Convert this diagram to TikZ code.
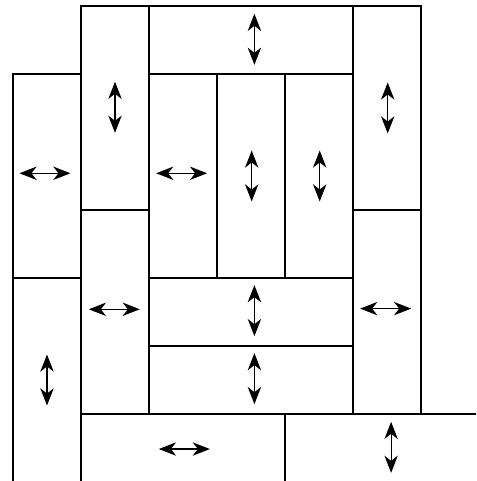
\documentclass[tikz,border=0pt]{standalone}
\usetikzlibrary{arrows.meta}

\begin{document}
\begin{tikzpicture}[board/.style={draw,line width=0.65pt},
  grain/.style={{Stealth[length=7.2pt,width=5.6pt,inset=2.2pt]}-{Stealth[length=7.2pt,width=5.6pt,inset=2.2pt]},line width=0.5pt},
  up/.style={grain,shift={(0,-0.375)}},
  across/.style={grain,shift={(-0.375,0)}}]

  \useasboundingbox (-0.191,0.015) rectangle (6.809,7.088);
  \clip (-0.191,0.015) rectangle (6.809,7.088);

  % boards
  \draw[board] (2,6) rectangle (5,7);
  \draw[board] (1,4) rectangle (2,7);
  \draw[board] (0,3) rectangle (1,6);
  \draw[board] (2,3) rectangle (3,6);
  \draw[board] (3,3) rectangle (4,6);
  \draw[board] (4,3) rectangle (5,6);
  \draw[board] (5,4) rectangle (6,7);
  \draw[board] (1,1) rectangle (2,4);
  \draw[board] (2,2) rectangle (5,3);
  \draw[board] (2,1) rectangle (5,2);
  \draw[board] (5,1) rectangle (6,4);
  \draw[board] (0,0) rectangle (1,3);
  \draw[board] (1,0) rectangle (4,1);
  \draw[board] (4,0) rectangle (7,1);

  % grain arrows
  \draw[up] (3.55,6.51) -- ++(0,0.75);
  \draw[up] (1.5,5.51) -- ++(0,0.75);
  \draw[across] (0.47,4.54) -- ++(0.75,0);
  \draw[across] (2.48,4.54) -- ++(0.75,0);
  \draw[up] (3.51,4.5) -- ++(0,0.75);
  \draw[up] (4.51,4.5) -- ++(0,0.75);
  \draw[up] (5.51,5.5) -- ++(0,0.75);
  \draw[across] (1.49,2.54) -- ++(0.75,0);
  \draw[up] (3.55,2.52) -- ++(0,0.75);
  \draw[up] (3.55,1.52) -- ++(0,0.75);
  \draw[across] (5.48,2.55) -- ++(0.75,0);
  \draw[up] (0.5,1.5) -- ++(0,0.75);
  \draw[across] (2.52,0.485) -- ++(0.75,0);
  \draw[up] (5.56,0.51) -- ++(0,0.75);

\end{tikzpicture}
\end{document}
